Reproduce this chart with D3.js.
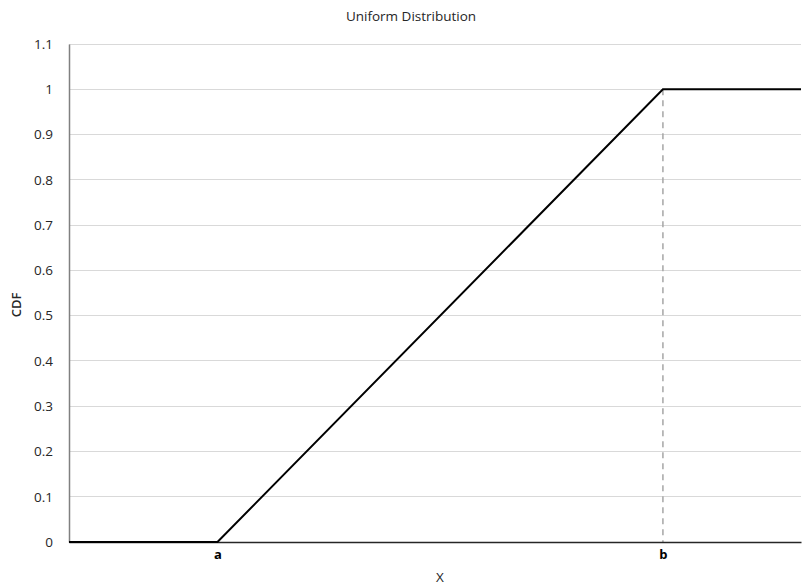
<!DOCTYPE html>
<html><head><meta charset="utf-8">
<script src="https://cdn.jsdelivr.net/npm/d3@7"></script>
<style>body{margin:0;background:#fff}text{font-family:"Open Sans","Liberation Sans",sans-serif}</style>
</head><body><svg id="c" width="802" height="588"></svg>
<script>
const xVals = [0, 1, 4, 4.93];
const cdfVals = [0, 0, 1, 1];
const yTicks = [0,0.1,0.2,0.3,0.4,0.5,0.6,0.7,0.8,0.9,1,1.1];
const xTickVals = [1, 4];
const xTickLabels = ["a", "b"];
const title = "Uniform Distribution";

const svg = d3.select("#c");
const m = {l:69, r:801, t:44, b:542};
const x = d3.scaleLinear().domain([0, 4.93]).range([m.l, m.r]);
const y = d3.scaleLinear().domain([0, 1.1]).range([m.b, m.t]);

svg.append("text").attr("x",411).attr("y",21).attr("text-anchor","middle")
  .attr("font-size",13.5).attr("fill","#262626").text(title);

// grid
svg.append("g").selectAll("line").data(yTicks.filter(d=>d>0)).join("line")
  .attr("x1",m.l).attr("x2",m.r).attr("y1",d=>y(d)).attr("y2",d=>y(d))
  .attr("stroke","#d9d9d9").attr("stroke-width",1).attr("shape-rendering","crispEdges");

// y axis
const ya = svg.append("g").attr("transform",`translate(${m.l},0)`)
  .call(d3.axisLeft(y).tickValues(yTicks).tickSize(0).tickPadding(16).tickFormat(d3.format("~g")));
ya.select(".domain").attr("stroke","#808080").attr("stroke-width",1.5);
ya.selectAll("text").attr("font-size",13.5).attr("fill","#262626").attr("font-family","Open Sans, Liberation Sans, sans-serif");

// dashed line at b
svg.append("line").attr("x1",x(xTickVals[1])).attr("x2",x(xTickVals[1]))
  .attr("y1",y(1)).attr("y2",y(0)).attr("stroke","#a6a6a6").attr("stroke-width",1.5)
  .attr("stroke-dasharray","6,5");

// x axis
const xa = svg.append("g").attr("transform",`translate(0,${m.b})`)
  .call(d3.axisBottom(x).tickValues(xTickVals).tickSize(0).tickPadding(8).tickFormat((d,i)=>xTickLabels[i]));
xa.select(".domain").attr("stroke","#262626").attr("stroke-width",1.5);
xa.selectAll("text").attr("font-size",13).attr("font-weight","bold").attr("fill","#000").attr("font-family","Open Sans, Liberation Sans, sans-serif");

// cdf line
svg.append("path").datum(xVals.map((v,i)=>[v,cdfVals[i]]))
  .attr("d", d3.line().x(d=>x(d[0])).y(d=>y(d[1])))
  .attr("fill","none").attr("stroke","#000").attr("stroke-width",2);

svg.append("text").attr("x",440).attr("y",582).attr("text-anchor","middle")
  .attr("font-size",13.5).attr("fill","#262626").text("X");
svg.append("text").attr("transform","translate(21,305) rotate(-90)").attr("text-anchor","middle")
  .attr("font-size",13).attr("font-weight","600").attr("fill","#262626").text("CDF");
</script></body></html>
